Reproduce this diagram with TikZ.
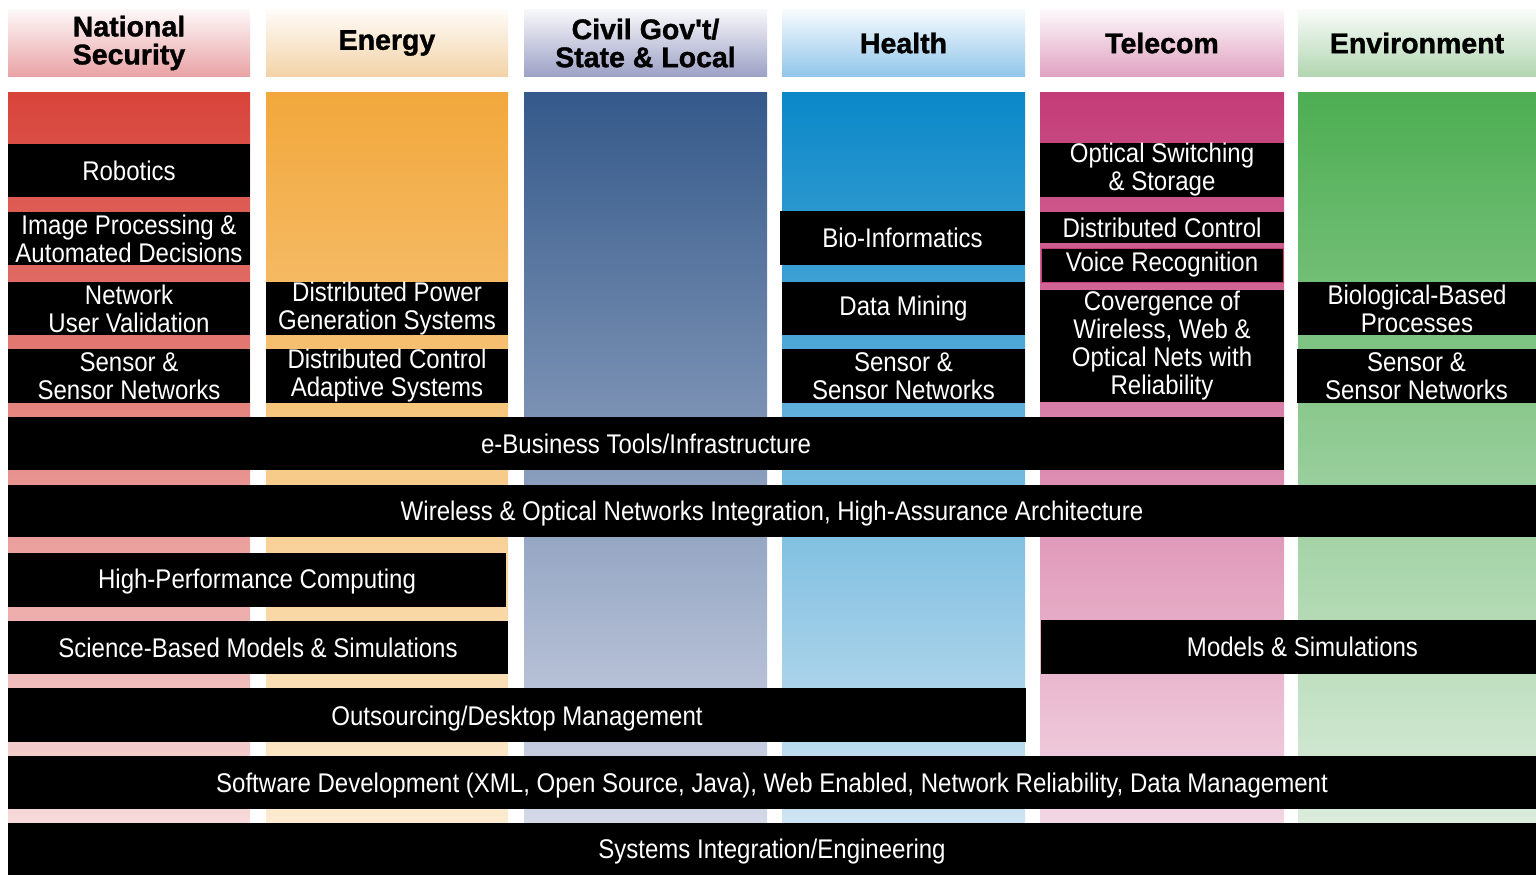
\documentclass[tikz,border=0pt]{standalone}
\usepackage{fontspec}
\setmainfont{Liberation Sans}
\newfontfamily\condfont[FakeStretch=0.89]{Liberation Sans}
\newfontfamily\headfont[FakeBold=1.2]{Liberation Sans Bold}

\definecolor{ctopA}{HTML}{D8443A}\definecolor{cmidA}{HTML}{E58A88}\definecolor{cbotA}{HTML}{F8E4E6}
\definecolor{ctopB}{HTML}{F2A83C}\definecolor{cmidB}{HTML}{F6C68A}\definecolor{cbotB}{HTML}{FDF0DC}
\definecolor{ctopC}{HTML}{34598A}\definecolor{cmidC}{HTML}{8A98C4}\definecolor{cbotC}{HTML}{E0E2EF}
\definecolor{ctopD}{HTML}{0A88C8}\definecolor{cmidD}{HTML}{6CB2E4}\definecolor{cbotD}{HTML}{DDEBF5}
\definecolor{ctopE}{HTML}{C43C78}\definecolor{cmidE}{HTML}{DC8AB0}\definecolor{cbotE}{HTML}{F6E2EC}
\definecolor{ctopF}{HTML}{4DAE52}\definecolor{cmidF}{HTML}{96C99A}\definecolor{cbotF}{HTML}{E6F0E6}
\definecolor{hA}{HTML}{E9A3A6}\definecolor{hB}{HTML}{F3D3A8}\definecolor{hC}{HTML}{9DA1C5}
\definecolor{hD}{HTML}{92C6EA}\definecolor{hE}{HTML}{E0A3C2}\definecolor{hF}{HTML}{B2D6B2}

\tikzset{
  blk/.style={fill=black, text=white, inner sep=0pt, align=center,
    font=\condfont\fontsize{27}{28}\selectfont},
  hdr/.style={inner sep=0pt, align=center, text=black,
    font=\headfont\fontsize{28.5}{28}\selectfont,
    minimum height=66pt},
}
\newcommand\bx[7][]{\node[blk, minimum width={(#5-#3)*1pt}, minimum height={(#6-#4)*1pt}, #1]
  (#2) at ({(#3+#5)/2},{(#4+#6)/2}) {#7};}
\newcommand\lowerby[2]{\raisebox{-#1}[\height][\depth]{#2}}

\begin{document}
\begin{tikzpicture}[x=1pt,y=-1pt]
\useasboundingbox (0,0) rectangle (1536,875);
\fill[white] (0,0) rectangle (1536,875);

% headers
\node[hdr, minimum width=242pt, top color=white!92!hA, bottom color=hA] (hA) at (129,43) {National\\Security};
\node[hdr, minimum width=242pt, top color=white!92!hB, bottom color=hB] (hB) at (387,43) {Energy};
\node[hdr, minimum width=243pt, top color=white!92!hC, bottom color=hC] (hC) at (645.5,43) {Civil Gov't/\\State \& Local};
\node[hdr, minimum width=243pt, top color=white!92!hD, bottom color=hD] (hD) at (903.5,43) {Health};
\node[hdr, minimum width=244pt, top color=white!92!hE, bottom color=hE] (hE) at (1162,43) {Telecom};
\node[hdr, minimum width=238pt, top color=white!92!hF, bottom color=hF] (hF) at (1417,43) {Environment};

% column bodies
\shade[top color=ctopA, middle color=cmidA, bottom color=cbotA] (8,92) rectangle (250,875);
\shade[top color=ctopB, middle color=cmidB, bottom color=cbotB] (266,92) rectangle (508,875);
\shade[top color=ctopC, middle color=cmidC, bottom color=cbotC] (524,92) rectangle (767,875);
\shade[top color=ctopD, middle color=cmidD, bottom color=cbotD] (782,92) rectangle (1025,875);
\shade[top color=ctopE, middle color=cmidE, bottom color=cbotE] (1040,92) rectangle (1284,875);
\shade[top color=ctopF, middle color=cmidF, bottom color=cbotF] (1298,92) rectangle (1536,875);

% National Security
\bx{rob}{8}{144}{250}{197}{Robotics}
\bx{img}{8}{212}{250}{265}{Image Processing \&\\Automated Decisions}
\bx{nuv}{8}{282}{250}{335}{Network\\User Validation}
\bx{senA}{8}{349}{250}{403}{Sensor \&\\Sensor Networks}
% Energy
\bx{dpg}{266}{282}{508}{335}{Distributed Power\\Generation Systems}
\bx{dca}{266}{349}{508}{403}{Distributed Control\\Adaptive Systems}
% Health
\bx{bio}{780}{211}{1025}{265}{Bio-Informatics}
\bx{dm}{782}{282}{1025}{335}{Data Mining}
\bx{senD}{782}{349}{1025}{403}{Sensor \&\\Sensor Networks}
% Telecom
\bx{oss}{1040}{143}{1284}{197}{Optical Switching\\\& Storage}
\bx{dcE}{1040}{212}{1284}{243}{Distributed Control}
\bx[draw=ctopE, line width=1pt]{vr}{1041}{248}{1283}{282}{Voice Recognition}
\bx{conv}{1040}{290}{1284}{402}{Covergence of\\Wireless, Web \&\\Optical Nets with\\Reliability}
% Environment
\bx{bbp}{1298}{282}{1536}{335}{Biological-Based\\Processes}
\bx{senF}{1297}{349}{1536}{403}{Sensor \&\\Sensor Networks}

% horizontal bars
\bx{eb}{8}{417}{1284}{470}{e-Business Tools/Infrastructure}
\bx{wo}{8}{485}{1536}{537}{\lowerby{3pt}{Wireless \& Optical Networks Integration, High-Assurance Architecture}}
\bx{hpc}{8}{553}{506}{607}{\lowerby{2pt}{High-Performance Computing}}
\bx{sbm}{8}{621}{508}{674}{Science-Based Models \& Simulations}
\bx{ms}{1041}{620}{1536}{674}{\hspace*{28pt}Models \& Simulations}
\bx{od}{8}{688}{1026}{742}{\lowerby{4pt}{Outsourcing/Desktop Management}}
\bx{sd}{8}{756}{1536}{809}{\lowerby{3pt}{Software Development (XML, Open Source, Java), Web Enabled, Network Reliability, Data Management}}
\bx{si}{8}{823}{1536}{875}{\lowerby{3pt}{Systems Integration/Engineering}}
\end{tikzpicture}
\end{document}
